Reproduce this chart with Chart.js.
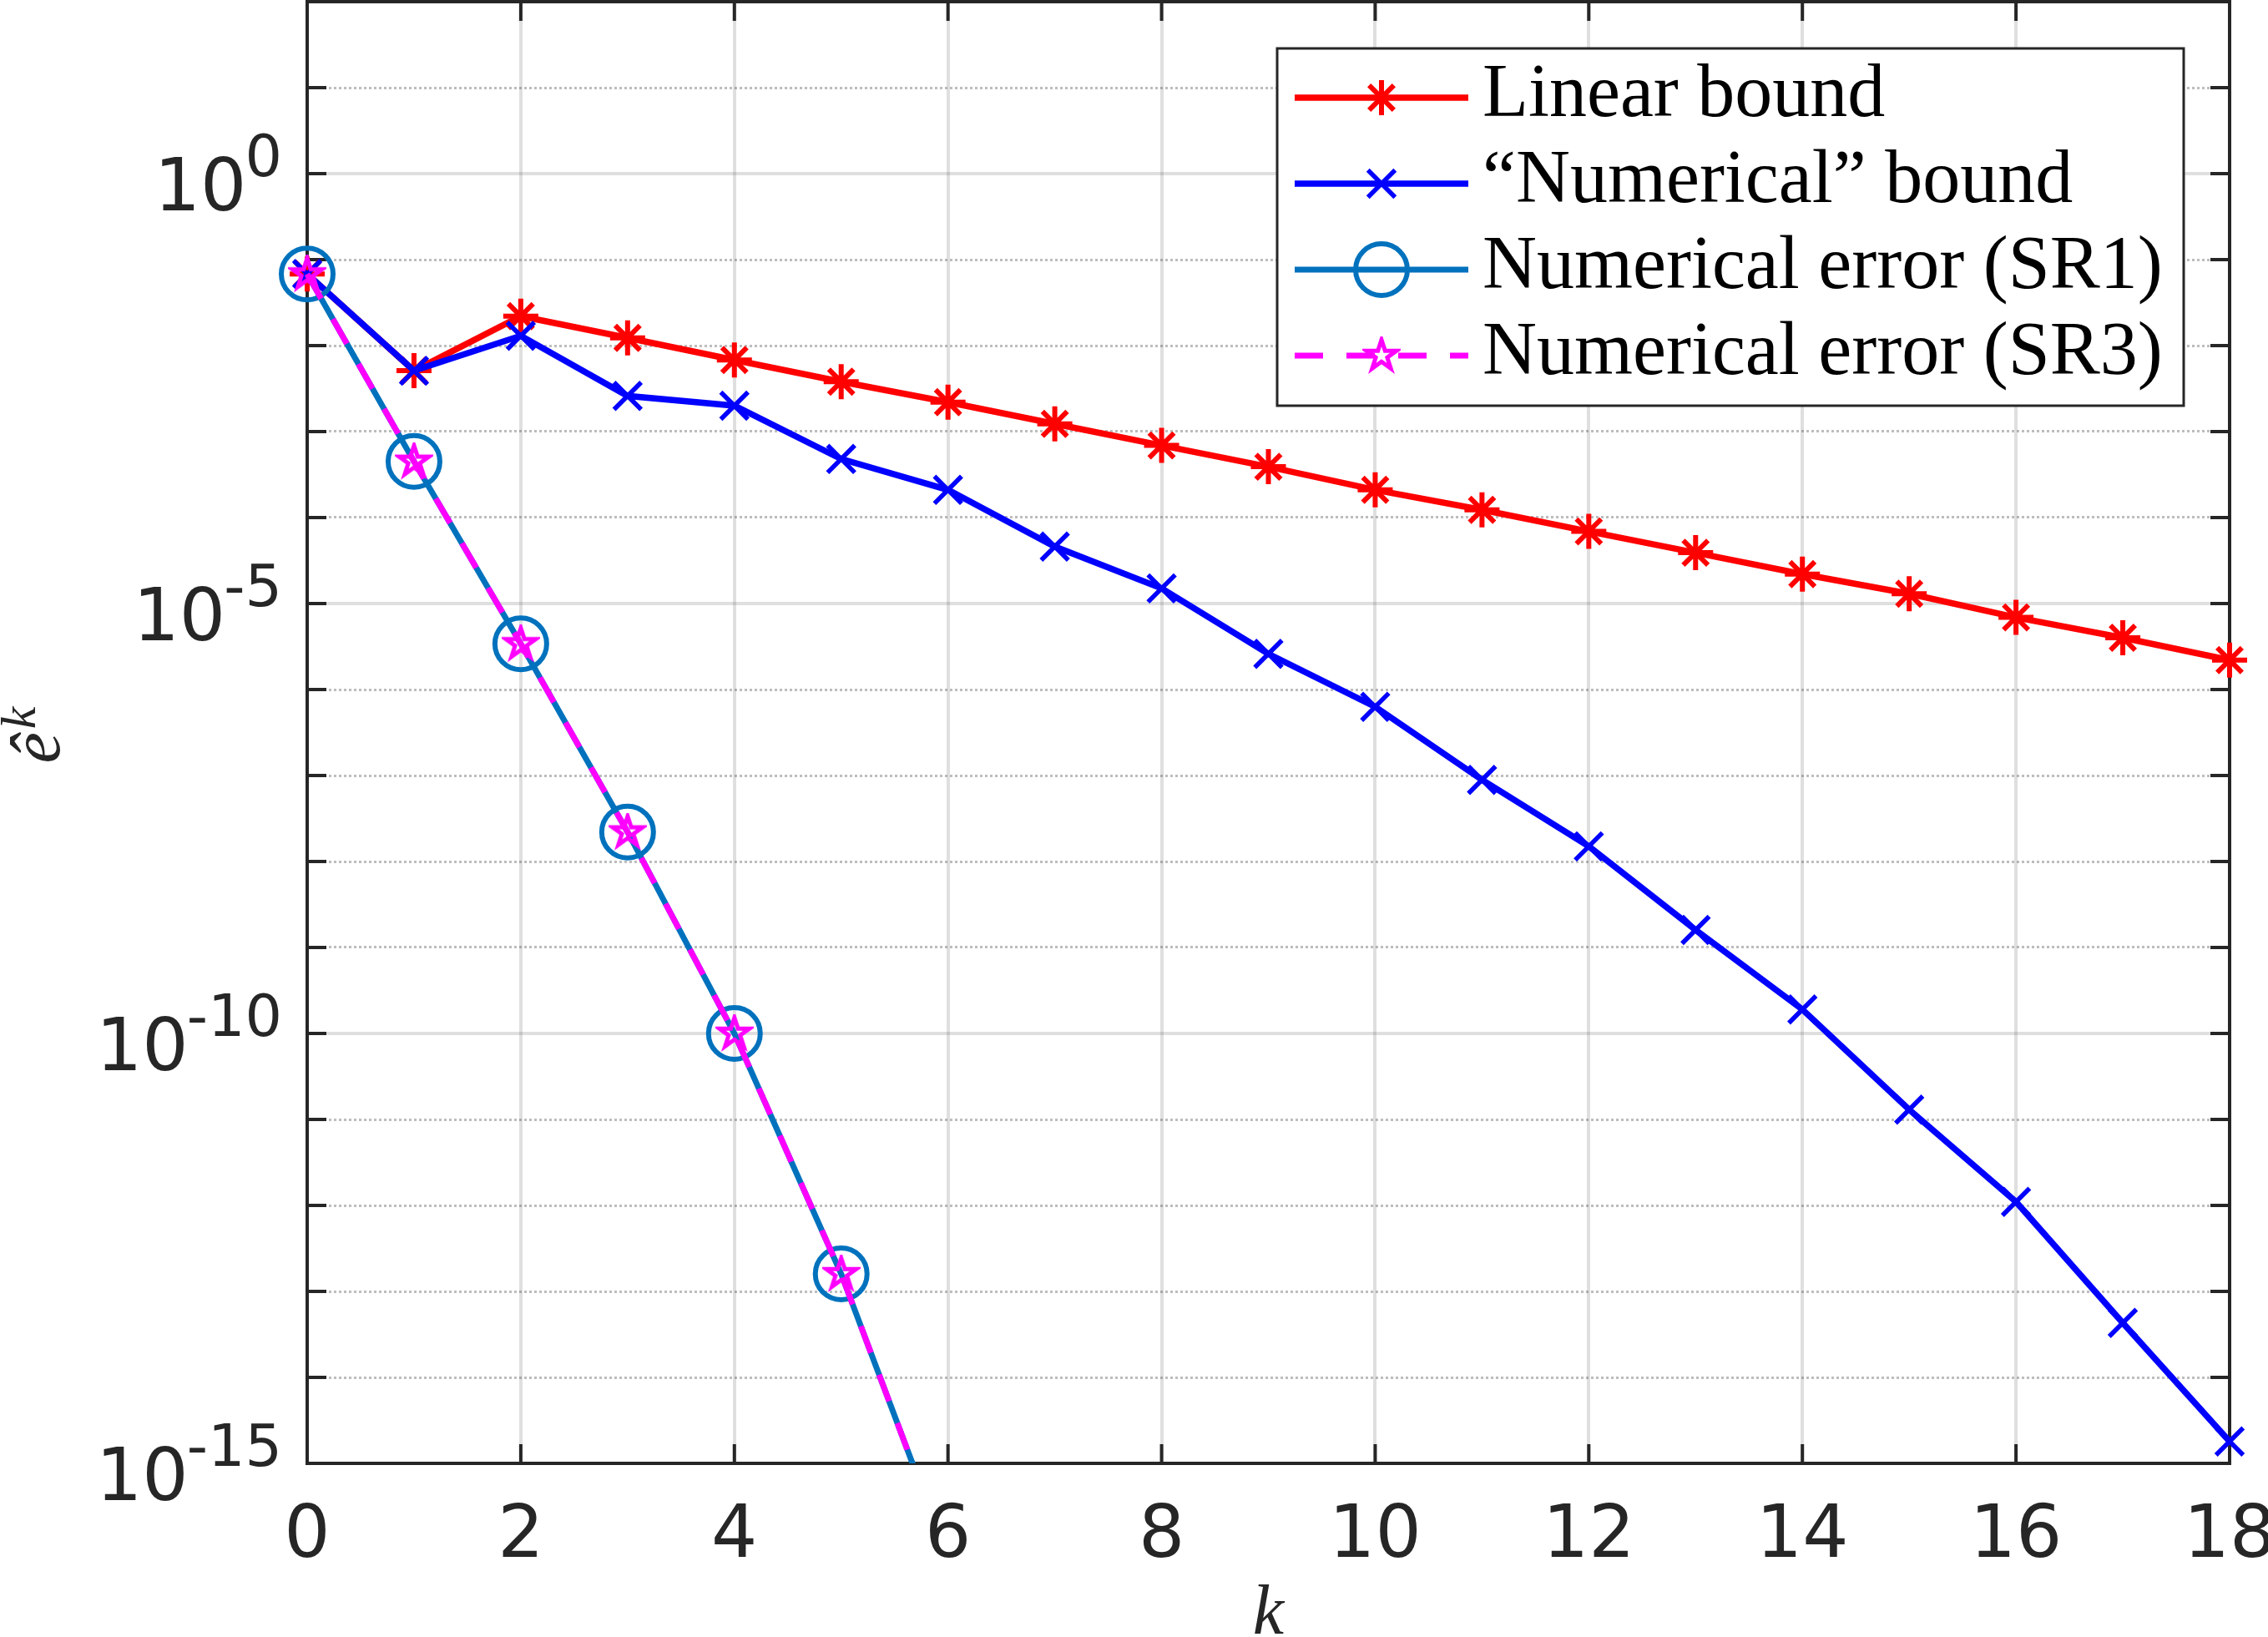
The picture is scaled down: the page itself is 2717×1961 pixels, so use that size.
<!DOCTYPE html>
<html>
<head>
<meta charset="utf-8">
<title>Error bounds vs k</title>
<script src="https://cdn.jsdelivr.net/npm/chart.js@4.4.1/dist/chart.umd.min.js"></script>
<style>
  html, body { margin: 0; padding: 0; background: #ffffff; }
  canvas { display: block; }
</style>
</head>
<body>
<canvas id="errChart" width="2717" height="1961"></canvas>
<script>
// iterations k
const kValues = [0, 1, 2, 3, 4, 5, 6, 7, 8, 9, 10, 11, 12, 13, 14, 15, 16, 17, 18];

// (log axis)
const linearBound = [6.8e-2, 5.1e-3, 2.2e-2, 1.23e-2, 6.8e-3, 3.8e-3, 2.2e-3, 1.23e-3, 6.9e-4, 3.9e-4,
  2.1e-4, 1.23e-4, 6.9e-5, 3.9e-5, 2.2e-5, 1.3e-5, 6.9e-6, 4.0e-6, 2.2e-6];
const numericalBound = [6.8e-2, 5.1e-3, 1.3e-2, 2.6e-3, 2.0e-3, 4.8e-4, 2.1e-4, 4.6e-5, 1.5e-5, 2.6e-6,
  6.3e-7, 8.9e-8, 1.5e-8, 1.6e-9, 1.9e-10, 1.3e-11, 1.1e-12, 4.3e-14, 1.8e-15];
const errorSR1 = [6.8e-2, 4.5e-4, 3.4e-6, 2.2e-8, 1.0e-10, 1.6e-13, 8e-17];
const errorSR3 = [6.8e-2, 4.5e-4, 3.4e-6, 2.2e-8, 1.0e-10, 1.6e-13, 8e-17];

const legendLabels = ['Linear bound', '\u201CNumerical\u201D bound', 'Numerical error (SR1)', 'Numerical error (SR3)'];
const xTicks = [0, 2, 4, 6, 8, 10, 12, 14, 16, 18];
const yDecades = [-15, -14, -13, -12, -11, -10, -9, -8, -7, -6, -5, -4, -3, -2, -1, 0, 1, 2];
const yLabelled = [0, -5, -10, -15];

const AXIS_COLOR = '#262626';
const SANS = '"DejaVu Sans", sans-serif';
const SERIF = '"Liberation Serif", "DejaVu Serif", serif';

// pentagram marker (matlab 'p')
function pentagram(size, color) {
  const c = document.createElement('canvas');
  c.width = c.height = size;
  const g = c.getContext('2d');
  const R = size / 2 - 4, r = R * 0.382;
  g.beginPath();
  for (let i = 0; i < 10; i++) {
    const a = -Math.PI / 2 + i * Math.PI / 5;
    const rad = i % 2 ? r : R;
    const px = size / 2 + rad * Math.cos(a), py = size / 2 + rad * Math.sin(a);
    if (i) g.lineTo(px, py); else g.moveTo(px, py);
  }
  g.closePath();
  g.lineWidth = 5;
  g.lineJoin = 'miter';
  g.strokeStyle = color;
  g.stroke();
  return c;
}

const points = vals => vals.map((v, i) => ({ x: kValues[i], y: v }));
const isMajor = ctx => ctx.tick && Math.round(Math.log10(ctx.tick.value)) % 5 === 0;
const clipBox = { left: 60, right: 60, top: 60, bottom: 0 };

function drawMarker(ctx, ds, x, y) {
  const style = ds.pointStyle, r = ds.pointRadius;
  ctx.save();
  ctx.strokeStyle = ds.pointBorderColor;
  ctx.lineWidth = ds.pointBorderWidth;
  ctx.setLineDash([]);
  if (typeof style !== 'string') {
    ctx.drawImage(style, x - style.width / 2, y - style.height / 2);
  } else if (style === 'circle') {
    ctx.beginPath();
    ctx.arc(x, y, r, 0, 2 * Math.PI);
    ctx.stroke();
  } else {
    const d = r * Math.SQRT1_2;
    ctx.beginPath();
    if (style === 'star') {
      ctx.moveTo(x - r, y); ctx.lineTo(x + r, y);
      ctx.moveTo(x, y - r); ctx.lineTo(x, y + r);
    }
    ctx.moveTo(x - d, y - d); ctx.lineTo(x + d, y + d);
    ctx.moveTo(x - d, y + d); ctx.lineTo(x + d, y - d);
    ctx.stroke();
  }
  ctx.restore();
}

// box, inward ticks, labels with superscripts, axis titles and the legend
const framePlugin = {
  id: 'frame',
  beforeDatasetsDraw(chart) {
    const { ctx, chartArea: a } = chart;
    const xs = chart.scales.x, ys = chart.scales.y;
    const len = 23;
    ctx.save();
    ctx.strokeStyle = AXIS_COLOR;
    ctx.lineWidth = 4;
    ctx.beginPath();
    xTicks.forEach(v => {
      const px = xs.getPixelForValue(v);
      ctx.moveTo(px, a.bottom); ctx.lineTo(px, a.bottom - len);
      ctx.moveTo(px, a.top); ctx.lineTo(px, a.top + len);
    });
    yDecades.forEach(e => {
      const py = ys.getPixelForValue(Number('1e' + e));
      ctx.moveTo(a.left, py); ctx.lineTo(a.left + len, py);
      ctx.moveTo(a.right, py); ctx.lineTo(a.right - len, py);
    });
    ctx.stroke();
    ctx.strokeRect(a.left, a.top, a.right - a.left, a.bottom - a.top);
    ctx.restore();
  },
  afterDraw(chart) {
    const { ctx, chartArea: a } = chart;
    const xs = chart.scales.x, ys = chart.scales.y;
    ctx.save();
    ctx.fillStyle = AXIS_COLOR;

    // x tick labels
    ctx.font = '87px ' + SANS;
    ctx.textAlign = 'center';
    ctx.textBaseline = 'alphabetic';
    xTicks.forEach(v => ctx.fillText(String(v), xs.getPixelForValue(v), a.bottom + 112));

    // y tick labels 10^e
    yLabelled.forEach(e => {
      const py = ys.getPixelForValue(Number('1e' + e));
      const right = a.left - 30;
      ctx.textAlign = 'right';
      ctx.font = '70px ' + SANS;
      const sup = String(e);
      ctx.fillText(sup, right, py + 3);
      const supW = ctx.measureText(sup).width;
      ctx.font = '87px ' + SANS;
      ctx.fillText('10', right - supW + 2, py + 44);
    });

    // x title
    ctx.textAlign = 'center';
    ctx.font = 'italic 84px ' + SERIF;
    ctx.fillText('k', (a.left + a.right) / 2, 1957);

    // y title: e-hat with superscript k
    ctx.save();
    ctx.translate(71, (a.top + a.bottom) / 2 + 3);
    ctx.rotate(-Math.PI / 2);
    ctx.textAlign = 'left';
    ctx.font = 'italic 84px ' + SERIF;
    const wE = ctx.measureText('\u00EA').width;
    ctx.font = 'italic 60px ' + SERIF;
    const wK = ctx.measureText('k').width;
    const x0 = -(wE + wK + 4) / 2;
    ctx.font = 'italic 84px ' + SERIF;
    ctx.fillText('\u00EA', x0, 0);
    ctx.font = 'italic 60px ' + SERIF;
    ctx.fillText('k', x0 + wE + 4, -29);
    ctx.restore();

    // legend
    const bw = 1086, bh = 428;
    const bx = a.right - 55 - bw, by = a.top + 56;
    ctx.fillStyle = '#ffffff';
    ctx.fillRect(bx, by, bw, bh);
    ctx.strokeStyle = AXIS_COLOR;
    ctx.lineWidth = 3;
    ctx.strokeRect(bx, by, bw, bh);
    chart.data.datasets.forEach((ds, i) => {
      const ly = by + 59 + i * 103;
      ctx.save();
      ctx.strokeStyle = ds.borderColor;
      ctx.lineWidth = ds.borderWidth;
      ctx.setLineDash(ds.borderDash || []);
      ctx.beginPath();
      ctx.moveTo(bx + 21, ly);
      ctx.lineTo(bx + 229, ly);
      ctx.stroke();
      ctx.restore();
      drawMarker(ctx, ds, bx + 125, ly);
      ctx.fillStyle = '#000000';
      ctx.textAlign = 'left';
      ctx.textBaseline = 'alphabetic';
      ctx.font = '90px ' + SERIF;
      ctx.fillText(ds.label, bx + 246, ly + 22);
    });
    ctx.restore();
  }
};

new Chart(document.getElementById('errChart'), {
  type: 'line',
  data: {
    datasets: [
      {
        label: legendLabels[0],
        data: points(linearBound),
        borderColor: '#ff0000',
        borderWidth: 7.5,
        pointStyle: 'star',
        pointRadius: 21,
        pointBorderWidth: 6,
        pointBorderColor: '#ff0000',
        pointBackgroundColor: '#ff0000',
        clip: clipBox,
        order: 4
      },
      {
        label: legendLabels[1],
        data: points(numericalBound),
        borderColor: '#0000ff',
        borderWidth: 7.5,
        pointStyle: 'crossRot',
        pointRadius: 23,
        pointBorderWidth: 5.5,
        pointBorderColor: '#0000ff',
        pointBackgroundColor: '#0000ff',
        clip: clipBox,
        order: 3
      },
      {
        label: legendLabels[2],
        data: points(errorSR1),
        borderColor: '#0072bd',
        borderWidth: 7,
        pointStyle: 'circle',
        pointRadius: 31,
        pointBorderWidth: 6,
        pointBorderColor: '#0072bd',
        pointBackgroundColor: 'rgba(0,0,0,0)',
        clip: clipBox,
        order: 2
      },
      {
        label: legendLabels[3],
        data: points(errorSR3),
        borderColor: '#ff00ff',
        borderWidth: 7,
        borderDash: [34, 28],
        pointStyle: pentagram(46, '#ff00ff'),
        pointRadius: 19,
        pointBorderWidth: 5,
        pointBorderColor: '#ff00ff',
        pointBackgroundColor: 'rgba(0,0,0,0)',
        clip: clipBox,
        order: 1
      }
    ]
  },
  options: {
    responsive: false,
    devicePixelRatio: 1,
    animation: false,
    events: [],
    layout: { autoPadding: false, padding: { top: 2, right: 46, left: 0, bottom: 0 } },
    plugins: { legend: { display: false }, tooltip: { enabled: false } },
    scales: {
      x: {
        type: 'linear',
        min: 0,
        max: 18,
        ticks: { display: false, stepSize: 2 },
        grid: { color: 'rgba(38,38,38,0.15)', lineWidth: 4, drawTicks: false },
        border: { color: AXIS_COLOR, width: 4 },
        afterFit: s => { s.height = 208; }
      },
      y: {
        type: 'logarithmic',
        min: 1e-15,
        max: 1e2,
        ticks: { display: false },
        afterBuildTicks: s => { s.ticks = yDecades.map(e => ({ value: Number('1e' + e) })); },
        grid: {
          color: ctx => isMajor(ctx) ? 'rgba(38,38,38,0.15)' : 'rgba(38,38,38,0.3)',
          lineWidth: ctx => isMajor(ctx) ? 4 : 3,
          drawTicks: false
        },
        border: {
          color: AXIS_COLOR,
          width: 4,
          dash: ctx => (ctx.tick && !isMajor(ctx)) ? [3, 3] : []
        },
        afterFit: s => { s.width = 368; }
      }
    }
  },
  plugins: [framePlugin]
});
</script>
</body>
</html>
